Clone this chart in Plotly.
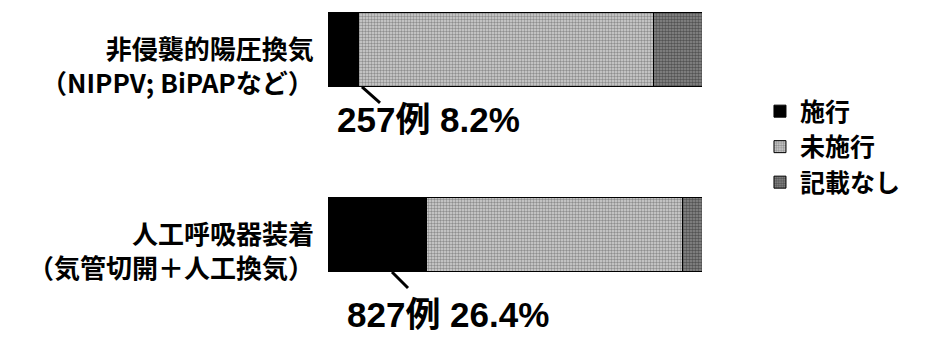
import plotly.graph_objects as go

# ---- data ----
categories = ["非侵襲的陽圧換気<br>（NIPPV; BiPAPなど）",
              "人工呼吸器装着<br>（気管切開＋人工換気）"]
series_names = ["施行", "未施行", "記載なし"]
done_pct = [8.2, 26.4]
not_done_pct = [78.7, 68.5]
no_record_pct = [13.1, 5.1]
case_counts = [257, 827]

# ---- styles ----
CJK = "Noto Sans CJK JP"
series_values = [done_pct, not_done_pct, no_record_pct]
series_styles = [
    dict(color="#000000"),
    dict(color="#bdbdbd", pattern=dict(shape=".", fgcolor="#4a4a4a", bgcolor="#d2d2d2", size=3, solidity=0.5)),
    dict(color="#5e5e5e", pattern=dict(shape=".", fgcolor="#1a1a1a", bgcolor="#8c8c8c", size=3, solidity=0.55)),
]
label_offsets = [(7, -70), (17, -80)]          # value-label pixel offsets (x, y)
leader_offsets = [(34, 52, 0, -16), (64, 80, 0, -16)]  # x0,x1,y0,y1 px from bar start/bottom

fig = go.Figure()
for name, vals, st in zip(series_names, series_values, series_styles):
    fig.add_trace(go.Bar(
        y=categories, x=vals, name=name, orientation="h",
        marker=dict(**st, line=dict(color="#000000", width=1)),
        width=0.405, hoverinfo="skip",
    ))

annotations = []
shapes = []
for i, cat in enumerate(categories):
    annotations.append(dict(
        xref="paper", yref="y", x=0, y=cat, text=cat, showarrow=False,
        xanchor="right", yanchor="middle", align="right",
        xshift=-12, yshift=-15,
        font=dict(family=CJK, size=26, color="#000000", weight="bold"),
    ))
    dx, dy = label_offsets[i]
    annotations.append(dict(
        xref="x", yref="y", x=0, y=cat,
        text=f"{case_counts[i]}例 {done_pct[i]}%", showarrow=False,
        xanchor="left", yanchor="middle", xshift=dx, yshift=dy,
        font=dict(family="Liberation Sans, " + CJK, size=35, color="#000000", weight="bold"),
    ))
    x0, x1, y0, y1 = leader_offsets[i]
    shapes.append(dict(
        type="line", xref="x", yref="y",
        xsizemode="pixel", xanchor=0, x0=x0, x1=x1,
        ysizemode="pixel", yanchor=i + 0.2025, y0=y0, y1=y1,
        line=dict(color="#000000", width=3),
    ))

fig.update_layout(
    barmode="stack",
    width=926, height=340,
    margin=dict(l=328, r=224, t=0, b=0),
    paper_bgcolor="white", plot_bgcolor="white",
    xaxis=dict(range=[0, 100], visible=False),
    yaxis=dict(range=[1.5703, -0.2676], visible=False, type="category"),
    showlegend=True,
    legend=dict(
        x=1.155, y=0.74, xanchor="left", yanchor="top",
        font=dict(family=CJK, size=25, color="#000000", weight="bold"),
        bgcolor="rgba(0,0,0,0)", traceorder="normal", itemclick=False,
    ),
    annotations=annotations,
    shapes=shapes,
)

fig.write_html("out.html")
